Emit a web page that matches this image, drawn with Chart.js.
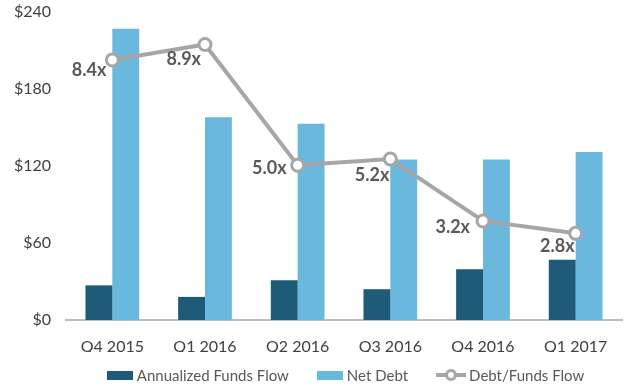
<!DOCTYPE html>
<html>
<head>
<meta charset="utf-8">
<script src="https://cdn.jsdelivr.net/npm/chart.js@4.4.0/dist/chart.umd.min.js"></script>
<style>
  body { margin: 0; background: #fff; font-family: Lato, sans-serif; }
  #wrap { position: relative; width: 631px; height: 392px; }
  #legend { position: absolute; left: 66px; top: 366px; width: 559px; display: flex; justify-content: center; align-items: center; font-size: 15px; color: #595959; }
  .item { display: flex; align-items: center; margin: 0 14px; }
  .box { width: 26px; height: 9px; margin-right: 4px; }
  .lineIcon { position: relative; width: 30px; height: 12px; margin-right: 3px; }
  .lineIcon:before { content: ''; position: absolute; left: 0; right: 0; top: 4px; height: 4px; background: #a6a6a6; }
  .lineIcon:after { content: ''; position: absolute; left: 9px; top: 0; width: 6px; height: 6px; border: 3px solid #a6a6a6; border-radius: 50%; background: #fff; }
</style>
</head>
<body>
<div id="wrap">
  <canvas id="chart" width="631" height="392"></canvas>
  <div id="legend">
    <div class="item"><span class="box" style="background:#1d5b79"></span>Annualized Funds Flow</div>
    <div class="item"><span class="box" style="background:#6ab8de"></span>Net Debt</div>
    <div class="item"><span class="lineIcon"></span>Debt/Funds Flow</div>
  </div>
</div>
<script>
const quarters = ['Q4 2015', 'Q1 2016', 'Q2 2016', 'Q3 2016', 'Q4 2016', 'Q1 2017'];
const fundsFlow = [27, 18, 31, 24, 39.5, 47];
const netDebt = [227, 158, 153, 125, 125, 131];
const debtToFlow = [8.4, 8.9, 5.0, 5.2, 3.2, 2.8];
const yTicks = [0, 60, 120, 180, 240];

// labels next to the line points, e.g. "8.4x"
const ratioLabels = {
  id: 'ratioLabels',
  afterDatasetsDraw(chart, args, opts) {
    const meta = chart.getDatasetMeta(0); // the line dataset
    const ctx = chart.ctx;
    ctx.save();
    ctx.font = 'bold 18px Lato';
    ctx.fillStyle = '#595959';
    ctx.textAlign = 'right';
    ctx.textBaseline = 'middle';
    meta.data.forEach((pt, i) => {
      const off = opts.offsets[i];
      ctx.fillText(debtToFlow[i].toFixed(1) + 'x', pt.x + off[0], pt.y + off[1]);
    });
    ctx.restore();
  }
};

new Chart(document.getElementById('chart'), {
  type: 'bar',
  data: {
    labels: quarters,
    datasets: [
      {
        type: 'line',
        label: 'Debt/Funds Flow',
        data: debtToFlow,
        yAxisID: 'y1',
        borderColor: '#a6a6a6',
        borderWidth: 4,
        pointRadius: 6,
        pointBorderWidth: 3,
        pointBackgroundColor: '#fff',
        pointBorderColor: '#a6a6a6',
        order: 0,
      },
      {
        label: 'Annualized Funds Flow',
        data: fundsFlow,
        backgroundColor: '#1d5b79',
        order: 1,
      },
      {
        label: 'Net Debt',
        data: netDebt,
        backgroundColor: '#6ab8de',
        order: 2,
      },
    ],
  },
  options: {
    responsive: false,
    animation: false,
    datasets: { bar: { barPercentage: 1, categoryPercentage: 0.58 } },
    layout: { padding: { top: 12, right: 6, bottom: 40, left: 0 } },
    scales: {
      x: {
        grid: { display: false },
        border: { display: true, color: '#bfbfbf', width: 2 },
        ticks: { color: '#404040', font: { family: 'Lato', size: 16 }, padding: 9 },
        afterFit: (s) => { s.height = 32; },
      },
      y: {
        min: 0,
        max: 240,
        grid: { display: false },
        border: { display: false },
        afterBuildTicks: (s) => { s.ticks = yTicks.map((v) => ({ value: v })); },
        ticks: { color: '#404040', font: { family: 'Lato', size: 16 }, padding: 7, callback: (v) => '$' + v },
        afterFit: (s) => { s.width = 66; s.paddingTop = 0; s.paddingBottom = 0; },
      },
      y1: { display: false, min: 0, max: 9.95 },
    },
    plugins: {
      legend: { display: false },
      tooltip: { enabled: false },
      ratioLabels: { offsets: [[-6, 10], [-4, 15], [-11, 3], [-1, 16], [-13, 6], [-1, 13]] },
    },
  },
  plugins: [ratioLabels],
});
</script>
</body>
</html>
